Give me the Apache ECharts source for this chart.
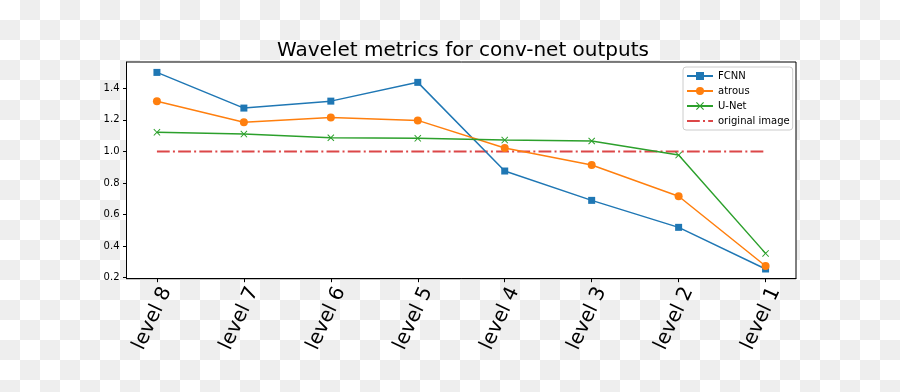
<!DOCTYPE html>
<html>
<head>
<meta charset="utf-8">
<script src="https://cdn.jsdelivr.net/npm/echarts@6/dist/echarts.min.js"></script>
<style>
html,body{margin:0;padding:0;}
body{width:900px;height:392px;background:repeating-conic-gradient(#eeeeee 0 25%, #ffffff 0 50%) 0 0/40px 40px;}
#chart{width:900px;height:392px;}
</style>
</head>
<body>
<div id="chart"></div>
<script>
const categories = ['level 8','level 7','level 6','level 5','level 4','level 3','level 2','level 1'];
const fcnn   = [1.501, 1.275, 1.319, 1.438, 0.876, 0.690, 0.519, 0.255];
const atrous = [1.318, 1.185, 1.216, 1.197, 1.022, 0.914, 0.716, 0.274];
const unet   = [1.121, 1.110, 1.087, 1.083, 1.072, 1.066, 0.977, 0.354];
const original = [1.0, 1.0, 1.0, 1.0, 1.0, 1.0, 1.0, 1.0];
const yTicks = [0.2, 0.4, 0.6, 0.8, 1.0, 1.2, 1.4];

const toPts = arr => arr.map((v, i) => [i, v]);
const idx = categories.map((c, i) => i);
const font = 'DejaVu Sans';
const xSym = 'path://M0,1L1,0L5,4L9,0L10,1L6,5L10,9L9,10L5,6L1,10L0,9L4,5Z';

const chart = echarts.init(document.getElementById('chart'), null, {renderer: 'canvas'});
chart.setOption({
  animation: false,
  backgroundColor: 'transparent',
  title: {
    text: 'Wavelet metrics for conv-net outputs',
    left: 458, top: 36, textAlign: 'center',
    textStyle: {fontFamily: font, fontSize: 20, fontWeight: 'normal', color: '#000'}
  },
  grid: {
    left: 126.5, right: 104, top: 62, bottom: 113.3,
    show: true, backgroundColor: '#fff', borderColor: '#000', borderWidth: 1
  },
  legend: {
    orient: 'vertical', left: 683, top: 67,
    padding: [4, 3, 4, 3], itemGap: 5, itemWidth: 26, itemHeight: 10,
    backgroundColor: '#fff', borderColor: '#cccccc', borderWidth: 1, borderRadius: 3,
    textStyle: {fontFamily: font, fontSize: 10, color: '#000'},
    data: ['FCNN', 'atrous', 'U-Net', {name: 'original image', itemStyle: {opacity: 0}}]
  },
  xAxis: {
    type: 'value', min: -0.35, max: 7.35,
    splitLine: {show: false},
    axisLine: {show: true, onZero: false, lineStyle: {color: '#000', width: 1}},
    axisTick: {show: true, length: 3.5, customValues: idx, lineStyle: {color: '#000'}},
    axisLabel: {
      customValues: idx, rotate: 65, margin: 42,
      align: 'center', verticalAlign: 'bottom', lineHeight: 10,
      fontFamily: font, fontSize: 20, color: '#000',
      formatter: v => categories[Math.round(v)]
    }
  },
  yAxis: {
    type: 'value', min: 0.1935, max: 1.567,
    splitLine: {show: false},
    axisLine: {show: true, onZero: false, lineStyle: {color: '#000', width: 1}},
    axisTick: {show: true, length: 3.5, customValues: yTicks, lineStyle: {color: '#000'}},
    axisLabel: {
      customValues: yTicks, margin: 7,
      fontFamily: font, fontSize: 10, color: '#000',
      formatter: v => v.toFixed(1)
    }
  },
  series: [
    {name: 'FCNN', type: 'line', data: toPts(fcnn), color: '#1f77b4',
     symbol: 'rect', symbolSize: 7, lineStyle: {width: 1.5}, z: 3},
    {name: 'atrous', type: 'line', data: toPts(atrous), color: '#ff7f0e',
     symbol: 'circle', symbolSize: 8, lineStyle: {width: 1.5}, z: 3},
    {name: 'U-Net', type: 'line', data: toPts(unet), color: '#2ca02c',
     symbol: xSym, symbolSize: 7, lineStyle: {width: 1.5}, z: 3},
    {name: 'original image', type: 'line', data: toPts(original), color: '#d62728',
     symbol: 'none', lineStyle: {width: 2, type: [12.8, 3.2, 2, 3.2], opacity: 0.85}, z: 2}
  ]
});
</script>
</body>
</html>
